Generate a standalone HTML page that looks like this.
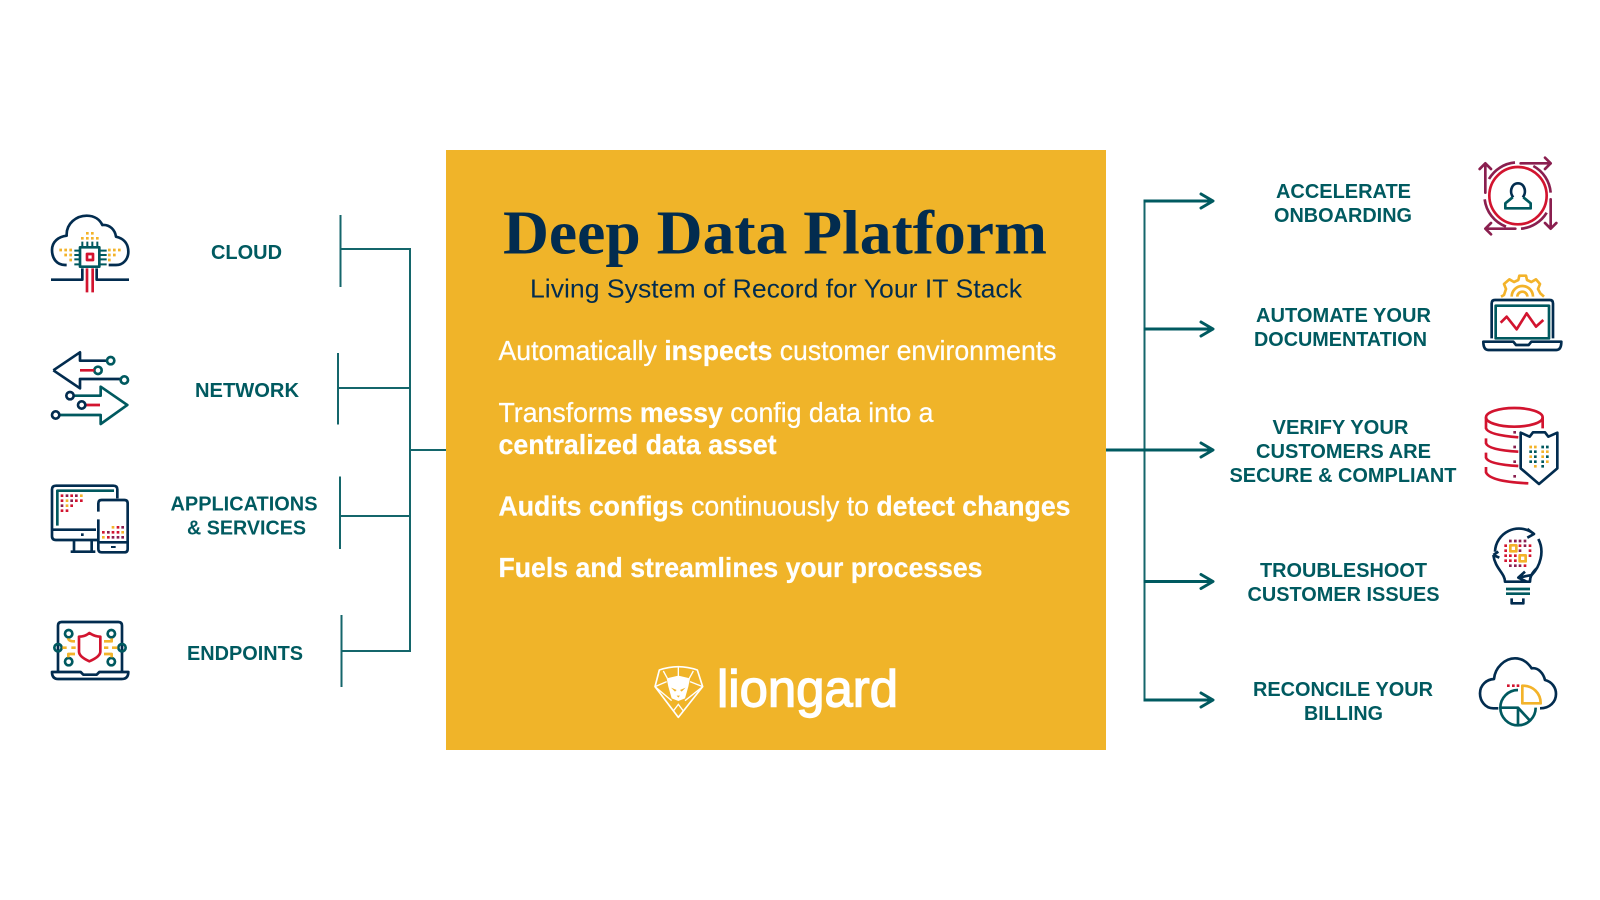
<!DOCTYPE html>
<html><head><meta charset="utf-8"><style>
html,body{margin:0;padding:0;background:#fff;width:1600px;height:900px;overflow:hidden}
svg{display:block}
text{font-family:"Liberation Sans",sans-serif}
.l{font-size:20px;font-weight:bold;fill:#005a60}
.b{font-size:28px;fill:#fff;stroke:#fff;stroke-width:.25px}
.b tspan{font-weight:bold}
.i{fill:none;stroke-width:8;stroke-linecap:butt;stroke-linejoin:round}
.n{stroke:#022c4f}.t{stroke:#00595f}.r{stroke:#d2142f}.y{stroke:#f3b32a}.p{stroke:#8a1f4f}
.d{fill:none;stroke-width:8;stroke-linecap:square}
</style></head><body>
<svg width="1600" height="900" viewBox="0 0 1600 900" xmlns="http://www.w3.org/2000/svg">
<rect width="1600" height="900" fill="#fff"/>
<rect x="446" y="150" width="660" height="600" fill="#f0b429"/>

<!-- left connectors -->
<g fill="none" stroke="#14666b" stroke-width="2">
<path d="M340.500 215V287M340.500 249H410V651H341.500M341.500 615V687"/>
<path d="M338 353V424.500M338 388H410M340 476.500V549M340 516H410M410 450H446"/>
</g>
<!-- right connectors -->
<g fill="none" stroke="#005a60">
<path stroke-width="2" stroke="#14666b" d="M1144.500 201V700"/>
<path stroke-width="3" d="M1143.500 201H1212M1143.500 329H1212M1106 450H1212M1143.500 581.500H1212M1143.500 700H1212"/>
<path stroke-width="3" stroke-linecap="round" stroke-linejoin="round" d="M1201 194L1213 201L1201 208M1201 322L1213 329L1201 336M1201 443L1213 450L1201 457M1201 574.500L1213 581.500L1201 588.500M1201 693L1213 700L1201 707"/>
</g>

<!-- center text -->
<text x="503" y="253.500" font-size="62" font-weight="bold" textLength="544" lengthAdjust="spacingAndGlyphs" fill="#022c4f" style='font-family:"Liberation Serif",serif'>Deep Data Platform</text>
<text x="530" y="297.500" font-size="26" textLength="492" lengthAdjust="spacingAndGlyphs" fill="#022c4f">Living System of Record for Your IT Stack</text>
<text class="b" x="498.500" y="360" textLength="558" lengthAdjust="spacingAndGlyphs">Automatically <tspan>inspects</tspan> customer environments</text>
<text class="b" x="498.500" y="422" textLength="435" lengthAdjust="spacingAndGlyphs">Transforms <tspan>messy</tspan> config data into a</text>
<text class="b" x="498.500" y="454" font-weight="bold" textLength="278" lengthAdjust="spacingAndGlyphs">centralized data asset</text>
<text class="b" x="498.500" y="515.500" textLength="572" lengthAdjust="spacingAndGlyphs"><tspan>Audits configs</tspan> continuously to <tspan>detect changes</tspan></text>
<text class="b" x="498.500" y="577" font-weight="bold" textLength="484" lengthAdjust="spacingAndGlyphs">Fuels and streamlines your processes</text>

<!-- logo -->
<g transform="translate(620,635) scale(.33333)">
<path d="M105 155L118 105Q175 85 232 105L248 155L175 247Z" fill="none" stroke="#fff" stroke-width="5" stroke-linejoin="round"/>
<path d="M175 95V128M105 155L140 140M248 155L210 140M130 108L142 130M220 108L208 130M155 197L105 155M195 197L248 155M160 228L175 208L190 228" fill="none" stroke="#fff" stroke-width="4"/>
<path d="M140 130L175 122L210 130L205 155L195 190L175 198L155 190L145 155Z" fill="#fff"/>
<path d="M153 158L170 165L165 170ZM197 158L180 165L185 170ZM170 182H180L175 188Z" fill="#f0b429"/>
</g>
<text x="717" y="706.500" font-size="52" textLength="181" lengthAdjust="spacingAndGlyphs" fill="#fff" stroke="#fff" stroke-width="1.400">liongard</text>

<!-- left labels -->
<text class="l" x="211" y="259" textLength="71" lengthAdjust="spacingAndGlyphs">CLOUD</text>
<text class="l" x="195" y="397" textLength="104" lengthAdjust="spacingAndGlyphs">NETWORK</text>
<text class="l" x="170.500" y="510.500" textLength="147" lengthAdjust="spacingAndGlyphs">APPLICATIONS</text>
<text class="l" x="187" y="534.500" textLength="119" lengthAdjust="spacingAndGlyphs">&amp; SERVICES</text>
<text class="l" x="187" y="660" textLength="116" lengthAdjust="spacingAndGlyphs">ENDPOINTS</text>

<!-- right labels -->
<text class="l" x="1276" y="198" textLength="135" lengthAdjust="spacingAndGlyphs">ACCELERATE</text>
<text class="l" x="1274" y="222" textLength="138" lengthAdjust="spacingAndGlyphs">ONBOARDING</text>
<text class="l" x="1256" y="322" textLength="175" lengthAdjust="spacingAndGlyphs">AUTOMATE YOUR</text>
<text class="l" x="1254" y="346" textLength="173" lengthAdjust="spacingAndGlyphs">DOCUMENTATION</text>
<text class="l" x="1272.500" y="434" textLength="136" lengthAdjust="spacingAndGlyphs">VERIFY YOUR</text>
<text class="l" x="1256" y="458" textLength="175" lengthAdjust="spacingAndGlyphs">CUSTOMERS ARE</text>
<text class="l" x="1229.500" y="482" textLength="227" lengthAdjust="spacingAndGlyphs">SECURE &amp; COMPLIANT</text>
<text class="l" x="1260" y="577" textLength="167" lengthAdjust="spacingAndGlyphs">TROUBLESHOOT</text>
<text class="l" x="1247.500" y="601" textLength="192" lengthAdjust="spacingAndGlyphs">CUSTOMER ISSUES</text>
<text class="l" x="1253" y="696" textLength="180" lengthAdjust="spacingAndGlyphs">RECONCILE YOUR</text>
<text class="l" x="1304" y="720" textLength="79" lengthAdjust="spacingAndGlyphs">BILLING</text>

<!-- left icons: cloud + network -->
<g transform="translate(30,195) scale(.33333)">
<g class="i">
<path class="n" d="M110 210H105C80 210 66 190 66 165C66 140 85 125 110 122C108 85 140 62 170 62C195 62 210 75 217 90C240 88 255 105 258 125C280 130 295 145 295 170C295 192 280 210 258 210H236"/>
<path class="n" d="M63 254H157V220M297 254H200V220"/>
<rect class="t" x="150" y="157" width="58" height="58"/>
<path class="t" style="stroke-width:6" d="M157 140V157M172 140V157M187 140V157M202 140V157M133 167H150M133 180H150M133 193H150M133 208H150M208 167H230M208 180H230M208 193H230M208 208H230"/>
<rect class="r" x="171" y="177" width="18" height="18"/>
<path class="r" d="M171 220V292M188 220V292"/>
<path class="n" d="M70 526L150 472V497H232M70 526L150 580V552H272"/>
<circle class="t" cx="242" cy="497" r="11"/><circle class="t" cx="204" cy="526" r="11"/><circle class="t" cx="283" cy="555" r="11"/>
<path class="r" d="M150 526H193M168 630H210"/>
<path class="t" d="M131 602H212V575L292 630L212 687V660H88"/>
<circle class="n" cx="120" cy="602" r="11"/><circle class="n" cx="155" cy="630" r="11"/><circle class="n" cx="77" cy="660" r="11"/>
</g>
<path class="d y" d="M172 115h.01M187 115h.01M157 130h.01M172 130h.01M187 130h.01M202 130h.01M92 165h.01M107 165h.01M122 165h.01M107 180h.01M122 180h.01M122 195h.01M238 165h.01M253 165h.01M268 165h.01M238 180h.01M253 180h.01M238 195h.01"/>
</g>

<!-- left icons: apps + endpoints -->
<g transform="translate(30,460) scale(.33333)">
<g class="i">
<path class="n" d="M262 115V88Q262 77 250 77H78Q66 77 66 88V228Q66 240 78 240H203M70 209H198M132 240V274M185 240V274M122 275H196"/>
<path class="t" d="M82 197V92H252"/>
<path class="n" d="M205 155V130Q205 120 215 120H283Q293 120 293 130V267Q293 277 283 277H215Q205 277 205 267V178M208 247H290"/>
<path class="n" d="M84 634V497Q84 486 95 486H265Q276 486 276 497V634M66 636H152L160 644H200L208 636H295Q295 657 275 657H85Q66 657 66 636Z"/>
<path class="r" d="M147 530Q165 530 178 519Q195 530 211 530V575Q211 590 178 604Q147 590 147 575Z"/>
<g class="t"><circle cx="116" cy="521" r="11"/><circle cx="244" cy="521" r="11"/><circle cx="84" cy="563" r="11"/><circle cx="276" cy="563" r="11"/><circle cx="116" cy="605" r="11"/><circle cx="244" cy="605" r="11"/></g>
<path class="y" d="M115 535Q115 544 135 544M222 544H245V535M97 563H110M124 563H137M222 563H235M246 563H262M115 592V582H135M222 582H245V592"/>
</g>
<path class="d r" d="M96 107h.01M125 107h.01M139 122h.01M154 122h.01M96 122h.01M125 137h.01M96 152h.01M111 152h.01M264 202h.01M220 217h.01M249 217h.01M264 217h.01M235 232h.01"/>
<path class="d p" d="M111 107h.01M139 107h.01M125 122h.01M96 137h.01M278 202h.01M235 217h.01M249 232h.01M264 232h.01M278 232h.01"/>
<path class="d y" d="M154 107h.01M111 122h.01M111 137h.01M249 202h.01M278 217h.01M220 232h.01"/>
<path class="d n" d="M157 224h.01"/>
<path d="M243 258h14v6h-14z" fill="#022c4f"/>
</g>

<!-- right icons: accelerate + automate -->
<g transform="translate(1430,140) scale(.33333)">
<g class="i">
<circle class="r" cx="264" cy="167" r="86"/>
<path class="p" d="M177 117A100 100 0 0 1 255 67.500M164 178A100 100 0 0 0 228 260M273 266A100 100 0 0 0 350 218M310 78A100 100 0 0 1 362 158"/>
<path class="p" stroke-linecap="round" style="stroke-width:8" d="M166 158V70M149 87L166 70L183 87M272 70H362M345 53L362 70L345 87M362 178V266M345 249L362 266L379 249M256 266H166M183 249L166 266L183 283"/>
<path class="n" d="M250 172C238 160 242 130 264 130C286 130 290 160 278 172"/>
<path class="t" d="M248 172L226 190V205H302V190L280 172"/>
<path class="y" d="M213 470L222 465L228 447L222 432L238 418L252 426L265 420L268 407L288 407L291 420L304 426L318 418L330 432L324 447L331 460L342 470"/>
<path class="y" d="M245 470A32 32 0 0 1 309 470M262 470A15 15 0 0 1 292 470"/>
<path class="n" d="M185 595V490Q185 480 195 480H359Q369 480 369 490V595"/>
<rect class="t" x="197" y="497" width="160" height="98"/>
<path class="r" d="M212 548L230 530L260 568L290 520L318 560L340 540"/>
<path class="n" d="M160 605H250L258 615H296L304 605H394Q394 630 379 630H175Q160 630 160 605Z"/>
</g>
</g>

<!-- right icons: database + bulb -->
<g transform="translate(1430,385) scale(.33333)">
<g class="i">
<ellipse class="r" cx="253" cy="97" rx="85" ry="28"/>
<path class="r" d="M338 97V130M168 97V130Q175 150 265 157M168 160V175Q175 195 265 200M168 203V218Q175 238 265 243M168 246V262Q180 290 295 295"/>
<path class="n" d="M272 143V250L327 297L382 250V143L355 155L345 142H309L299 155Z"/>
<path class="n" d="M195 500A72 72 0 0 1 310 445M292 432L312 447L292 458M325 462C345 500 330 545 305 570L265 578M285 560L265 578L290 590M190 510L208 518M190 510L205 500M190 510C195 550 225 565 225 590H300C300 575 305 565 320 550"/>
<path class="t" d="M228 612H300M228 626H300"/>
<path class="n" d="M245 640V655H280V640"/>
<rect class="y" x="241" y="481" width="18" height="18"/>
<rect class="y" x="269" y="511" width="18" height="18"/>
</g>
<path class="d p" d="M254 142h.01M254 186h.01M254 230h.01M254 274h.01M241 468h.01M256 468h.01M270 468h.01M285 468h.01M270 497h.01M285 482h.01M241 542h.01M256 542h.01M270 542h.01"/>
<path class="d r" d="M227 482h.01M227 497h.01M227 512h.01M241 512h.01M256 512h.01M300 482h.01M300 497h.01M270 482h.01M227 527h.01M241 527h.01M256 527h.01M300 512h.01M285 542h.01"/>
<path class="d y" d="M302 186h.01M316 186h.01M338 200h.01M352 200h.01M302 215h.01M338 215h.01M352 230h.01M316 244h.01"/>
<path class="d t" d="M338 186h.01M352 186h.01M302 200h.01M316 200h.01M316 215h.01M352 215h.01M302 230h.01M316 230h.01M338 230h.01M338 244h.01"/>
</g>

<!-- right icon: billing -->
<g transform="translate(1430,630) scale(.33333)">
<g class="i">
<path class="n" d="M205 235H190C165 235 150 212 150 190C150 165 170 148 192 147C195 112 225 85 255 85C280 85 295 100 305 115C325 112 340 130 345 150C365 155 378 172 378 192C378 215 360 235 330 235"/>
<path class="y" d="M277 167C310 167 332 190 332 220H277Z"/>
<path class="t" d="M264 180A53 53 0 1 0 317 233M211 233H264V286M264 233L300 272"/>
</g>
<path class="d r" d="M235 167h.01M250 167h.01M264 167h.01"/>
</g>
</svg>
</body></html>
